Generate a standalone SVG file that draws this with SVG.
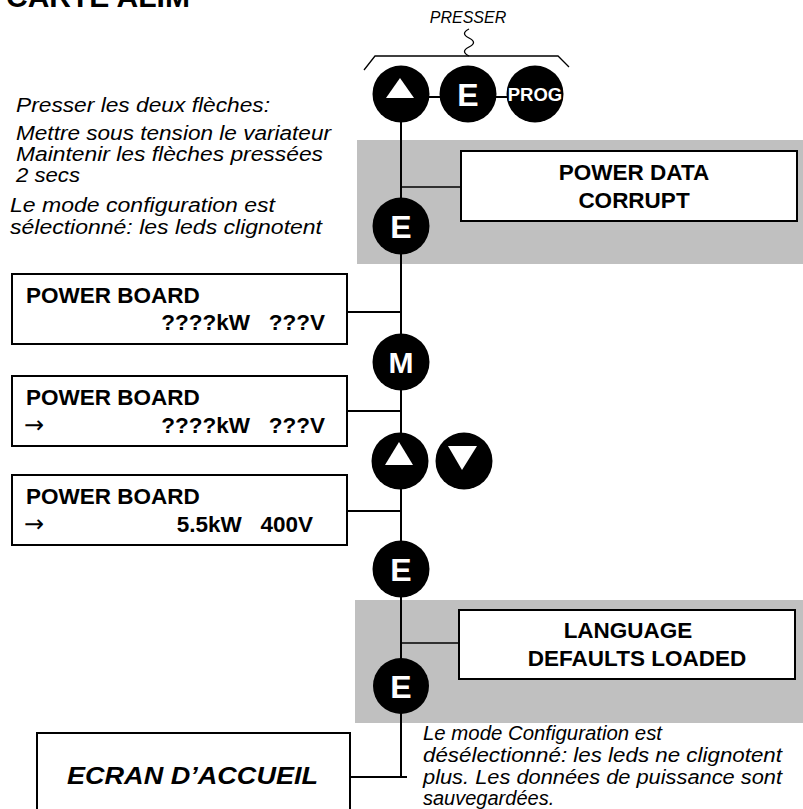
<svg xmlns="http://www.w3.org/2000/svg" width="803" height="809" viewBox="0 0 803 809">
<style>
.bg{fill:#c0c0c0;stroke:none}
.box{fill:#fff;stroke:#000;stroke-width:2}
.ln{stroke:#000;stroke-width:2;fill:none}
.thin{stroke:#000;stroke-width:1.3;fill:none}
.btn{fill:#000}
.bt{font-family:"Liberation Sans",Arial,sans-serif;font-weight:bold;fill:#fff;text-anchor:middle}
.it{font-family:"Liberation Sans",Arial,sans-serif;font-style:italic;font-size:19.5px;fill:#000}
.nb{font-family:"Liberation Sans",Arial,sans-serif;font-style:italic;font-size:20px;fill:#000}
.bd{font-family:"Liberation Sans",Arial,sans-serif;font-weight:bold;font-size:22.5px;fill:#000}
.ar{font-family:"DejaVu Sans",sans-serif;font-size:24px;fill:#000}
</style>
<rect class="bg" x="357" y="140" width="446" height="124"/>
<rect class="bg" x="355" y="600" width="448" height="123"/>
<text class="bd" x="6" y="7" style="font-size:30px">CARTE ALIM</text>
<text class="it" x="468" y="23" style="font-size:16px" text-anchor="middle">PRESSER</text>
<g id="connectors">
<path class="thin" d="M364,70 L375,56 L558,56 L569,67"/>
<path class="thin" d="M469,56 c-6,-3 -6,-6 0,-9 c6,-3 6,-6 0,-9 c-6,-3 -6,-6 0,-9"/>
<line class="ln" x1="401" y1="94" x2="401" y2="778"/>
<line class="ln" x1="428" y1="97" x2="442" y2="97"/>
<line class="ln" x1="495" y1="97" x2="508" y2="97"/>
<line class="thin" x1="401" y1="187" x2="461" y2="187"/>
<line class="ln" x1="347" y1="312" x2="401" y2="312"/>
<line class="ln" x1="347" y1="411" x2="401" y2="411"/>
<line class="ln" x1="347" y1="511" x2="401" y2="511"/>
<line class="thin" x1="401" y1="643" x2="459" y2="643"/>
<line class="ln" x1="350" y1="777" x2="407" y2="777"/>
</g>
<g id="btn-up-top"><circle class="btn" cx="401" cy="94" r="28.5"/><polygon fill="#fff" points="386,98 414,98 400,78"/></g>
<g id="btn-e-top"><circle class="btn" cx="468" cy="94" r="28.5"/><text class="bt" x="468" y="106" style="font-size:32px">E</text></g>
<g id="btn-prog-top"><circle class="btn" cx="535" cy="94" r="28.5"/><text class="bt" x="535" y="101" style="font-size:18.5px">PROG</text></g>
<g id="note-left">
<text class="it" x="16" y="112" textLength="254" lengthAdjust="spacingAndGlyphs">Presser les deux flèches:</text>
<text class="it" x="16" y="140" textLength="315" lengthAdjust="spacingAndGlyphs">Mettre sous tension le variateur</text>
<text class="it" x="16" y="161" textLength="307" lengthAdjust="spacingAndGlyphs">Maintenir les flèches pressées</text>
<text class="it" x="16" y="182" textLength="64" lengthAdjust="spacingAndGlyphs">2 secs</text>
<text class="it" x="10" y="212" textLength="265" lengthAdjust="spacingAndGlyphs">Le mode configuration est</text>
<text class="it" x="10" y="234" textLength="312" lengthAdjust="spacingAndGlyphs">sélectionné: les leds clignotent</text>
</g>
<g id="box-corrupt"><rect class="box" x="461" y="151" width="336" height="70"/>
<text class="bd" x="634" y="180" text-anchor="middle">POWER DATA</text>
<text class="bd" x="634" y="208" text-anchor="middle">CORRUPT</text></g>
<g id="btn-e-2"><circle class="btn" cx="401" cy="226" r="28.5"/><text class="bt" x="401" y="238" style="font-size:32px">E</text></g>
<g id="box-pb1"><rect class="box" x="12" y="274" width="335" height="70"/>
<text class="bd" x="26" y="303">POWER BOARD</text>
<text class="bd" x="325" y="330" text-anchor="end" xml:space="preserve">????kW   ???V</text></g>
<g id="btn-m"><circle class="btn" cx="401" cy="362" r="28.5"/><text class="bt" x="401" y="373" style="font-size:30px">M</text></g>
<g id="box-pb2"><rect class="box" x="12" y="376" width="335" height="70"/>
<text class="bd" x="26" y="405">POWER BOARD</text>
<text class="ar" x="24" y="433">→</text>
<text class="bd" x="325" y="433" text-anchor="end" xml:space="preserve">????kW   ???V</text></g>
<g id="btn-up"><circle class="btn" cx="400" cy="461" r="28.5"/><polygon fill="#fff" points="385,465 413,465 399,442"/></g>
<g id="btn-down"><circle class="btn" cx="464" cy="461" r="28.5"/><polygon fill="#fff" points="448,446 477,446 462,470"/></g>
<g id="box-pb3"><rect class="box" x="12" y="475" width="335" height="70"/>
<text class="bd" x="26" y="504">POWER BOARD</text>
<text class="ar" x="24" y="532">→</text>
<text class="bd" x="313" y="532" text-anchor="end" xml:space="preserve">5.5kW   400V</text></g>
<g id="btn-e-3"><circle class="btn" cx="401" cy="569" r="28.5"/><text class="bt" x="401" y="581" style="font-size:32px">E</text></g>
<g id="box-lang"><rect class="box" x="459" y="610" width="336" height="69"/>
<text class="bd" x="628" y="638" text-anchor="middle">LANGUAGE</text>
<text class="bd" x="637" y="666" text-anchor="middle">DEFAULTS LOADED</text></g>
<g id="btn-e-4"><circle class="btn" cx="401" cy="686" r="28"/><text class="bt" x="401" y="698" style="font-size:32px">E</text></g>
<g id="note-bottom">
<text class="nb" x="423" y="740" textLength="239" lengthAdjust="spacingAndGlyphs">Le mode Configuration est</text>
<text class="nb" x="423" y="762" textLength="359" lengthAdjust="spacingAndGlyphs">désélectionné: les leds ne clignotent</text>
<text class="nb" x="423" y="784" textLength="359" lengthAdjust="spacingAndGlyphs">plus. Les données de puissance sont</text>
<text class="nb" x="423" y="805">sauvegardées.</text>
</g>
<g id="box-accueil"><rect class="box" x="37" y="733" width="313" height="90"/>
<text class="bd" x="67" y="784" textLength="251" lengthAdjust="spacingAndGlyphs" style="font-style:italic;font-size:23px">ECRAN D’ACCUEIL</text></g>
</svg>
